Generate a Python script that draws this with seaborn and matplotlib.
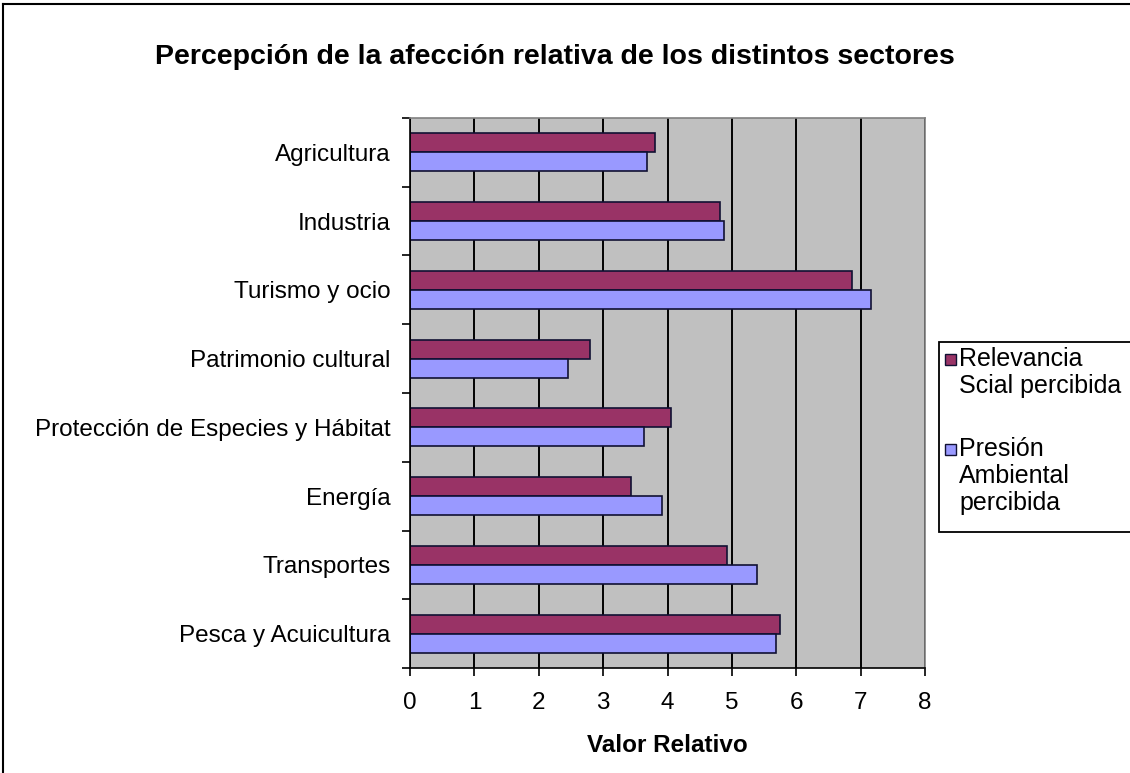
import matplotlib
matplotlib.use("Agg")
import matplotlib.pyplot as plt
from matplotlib.patches import Rectangle
from matplotlib.lines import Line2D
import seaborn as sns
import pandas as pd
import numpy as np

sectores = ["Agricultura", "Industria", "Turismo y ocio", "Patrimonio cultural",
            "Protección de Especies y Hábitat", "Energía", "Transportes",
            "Pesca y Acuicultura"]
relevancia = [3.80, 4.82, 6.86, 2.79, 4.06, 3.43, 4.93, 5.74]
presion = [3.68, 4.87, 7.16, 2.45, 3.63, 3.92, 5.39, 5.68]
series = ["Relevancia\nScial percibida", "Presión\nAmbiental\npercibida"]
xticks = [0, 1, 2, 3, 4, 5, 6, 7, 8]
colors = ["#993366", "#9999FF"]

df = pd.DataFrame({
    "sector": sectores * 2,
    "valor": relevancia + presion,
    "serie": [series[0]] * len(sectores) + [series[1]] * len(sectores),
})

plt.rcParams["font.family"] = ["Liberation Sans", "DejaVu Sans"]

W, H = 1130, 773
fig = plt.figure(figsize=(W / 100, H / 100), dpi=100)
fig.patch.set_facecolor("white")

L, R, T, B = 410, 925, 118, 668
ax = fig.add_axes([L / W, 1 - B / H, (R - L) / W, (B - T) / H])
ax.set_facecolor("#C0C0C0")
ax.set_axisbelow(True)

sns.barplot(data=df, x="valor", y="sector", hue="serie", hue_order=series,
            order=sectores, orient="h", palette=colors, width=0.55,
            edgecolor="#111133", linewidth=1.2, ax=ax, legend=False,
            errorbar=None, saturation=1)

ax.set_xlim(0, 8)
ax.set_ylim(len(sectores) - 0.5, -0.5)
ax.set_xticks(xticks)
ax.set_xticklabels([str(t) for t in xticks], fontsize=17.5)
ax.xaxis.grid(True, color="black", linewidth=1.4)
ax.yaxis.grid(False)
ax.tick_params(axis="x", direction="out", length=6, width=1.2, pad=11, colors="black")
ax.set_yticks(range(len(sectores)))
ax.set_yticklabels(sectores, fontsize=17.5)
ax.tick_params(axis="y", which="major", length=0, pad=14)
ax.set_yticks(np.arange(-0.5, len(sectores), 1.0), minor=True)
ax.tick_params(axis="y", which="minor", direction="out", length=6, width=1.2)
ax.set_ylabel("")
ax.set_xlabel("Valor Relativo", fontsize=17.5, fontweight="bold", labelpad=15)

for side in ["left", "bottom"]:
    ax.spines[side].set_color("black")
    ax.spines[side].set_linewidth(1.2)
for side in ["top", "right"]:
    ax.spines[side].set_color("#808080")
    ax.spines[side].set_linewidth(1.2)

fig.text(555 / W, 1 - 57 / H, "Percepción de la afección relativa de los distintos sectores",
         ha="center", va="center", fontsize=20.5, fontweight="bold")

def fx(px):
    return px / W

def fy(py):
    return 1 - py / H

# legend drawn as a box with entries (handle aligned with first text line)
fig.patches.append(Rectangle((fx(939), fy(532)), fx(1200) - fx(939), fy(342) - fy(532),
                             transform=fig.transFigure, facecolor="white",
                             edgecolor="black", linewidth=1.3))
entry_tops = [359, 449]
line_step = 27
for name, col, y0 in zip(series, colors, entry_tops):
    fig.patches.append(Rectangle((fx(945), fy(y0 + 6)), fx(956) - fx(945), fy(y0 - 5) - fy(y0 + 6),
                                 transform=fig.transFigure, facecolor=col,
                                 edgecolor="#111133", linewidth=1.0))
    for i, line in enumerate(name.split("\n")):
        fig.text(fx(959), fy(y0 + i * line_step), line, ha="left", va="center",
                 fontsize=18)

fig.lines.append(Line2D([fx(3), fx(3)], [0, fy(4)], transform=fig.transFigure,
                        color="black", linewidth=1.5))
fig.lines.append(Line2D([fx(3), 1], [fy(4), fy(4)], transform=fig.transFigure,
                        color="black", linewidth=1.5))

fig.savefig("out.png", dpi=100)
